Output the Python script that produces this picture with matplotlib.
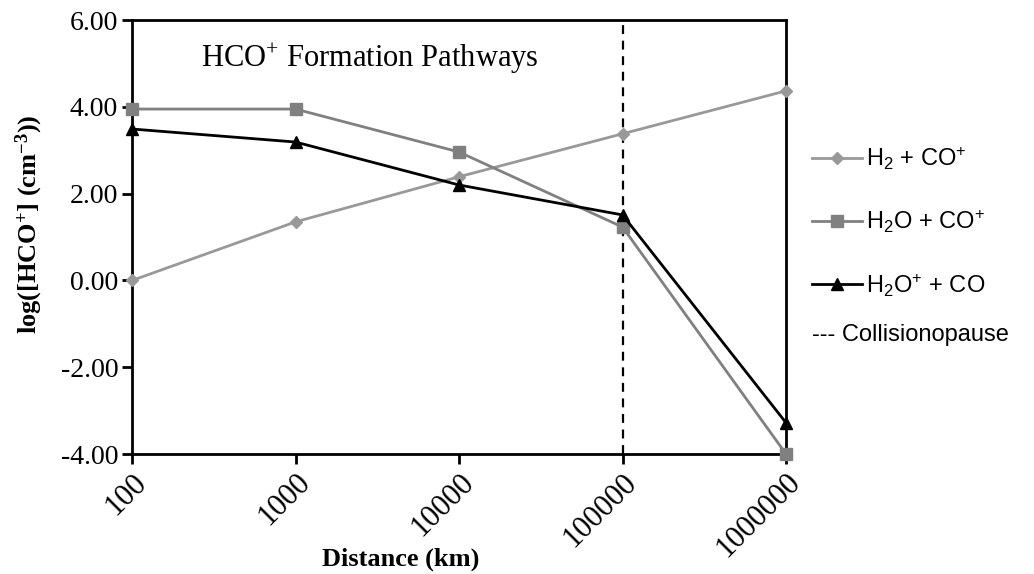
import numpy as np
import matplotlib
matplotlib.use('Agg')
import matplotlib.pyplot as plt
from matplotlib.lines import Line2D

# data
distance = [100, 1000, 10000, 100000, 1000000]
h2_co = [0.00, 1.35, 2.39, 3.38, 4.37]
h2o_co = [3.95, 3.95, 2.96, 1.23, -4.00]
h2op_co = [3.49, 3.19, 2.20, 1.51, -3.28]
collisionopause = 100000
yticks = [-4, -2, 0, 2, 4, 6]

serif = 'Liberation Serif'
sans = 'Liberation Sans'

fig = plt.figure(figsize=(10.34, 5.74), dpi=100)
ax = fig.add_axes([0.1277, 0.209, 0.6325, 0.756])

c_light = '#999999'
c_mid = '#808080'

ax.plot(distance, h2_co, color=c_light, lw=2, marker='D', ms=6, clip_on=False, zorder=3)
ax.plot(distance, h2o_co, color=c_mid, lw=2, marker='s', ms=9, clip_on=False, zorder=3)
ax.plot(distance, h2op_co, color='black', lw=2, marker='^', ms=9, clip_on=False, zorder=4)
ax.axvline(collisionopause, color='black', lw=1.6, ls=(0, (4, 3)), zorder=2)

ax.set_xscale('log')
ax.set_xlim(100, 1000000)
ax.set_ylim(-4, 6)
ax.set_xticks(distance)
ax.set_xticklabels([str(d) for d in distance], rotation=45, ha='right',
                   rotation_mode='anchor', fontfamily=serif, fontsize=22)
ax.xaxis.set_minor_locator(matplotlib.ticker.NullLocator())
ax.set_yticks(yticks)
ax.set_yticklabels(['%.2f' % v for v in yticks], fontfamily=serif, fontsize=20)
ax.tick_params(direction='out', length=7, width=2, pad=3)

for s in ax.spines.values():
    s.set_linewidth(2)

ax.set_xlabel('Distance (km)', fontfamily=serif, fontweight='bold', fontsize=19)
ax.xaxis.set_label_coords(0.411, -0.215)
ax.set_ylabel(r'log([HCO$\mathregular{^{+}}$] (cm$\mathregular{^{-3}}$))', fontfamily=serif,
              fontweight='bold', fontsize=19)
ax.yaxis.set_label_coords(-0.133, 0.53)

ax.text(0.105, 0.91, r'HCO$\mathregular{^{+}}$ Formation Pathways', transform=ax.transAxes,
        fontfamily=serif, fontsize=22, va='center')

handles = [
    Line2D([], [], color=c_light, lw=2, marker='D', ms=6),
    Line2D([], [], color=c_mid, lw=2, marker='s', ms=9),
    Line2D([], [], color='black', lw=2, marker='^', ms=9),
]
labels = [r'H$\mathregular{_2}$ + CO$\mathregular{^{+}}$',
          r'H$\mathregular{_2}$O + CO$\mathregular{^{+}}$',
          r'H$\mathregular{_2}$O$\mathregular{^{+}}$ + CO']
fig.legend(handles, labels, loc='upper left', bbox_to_anchor=(0.774, 0.768),
           frameon=False, prop={'family': sans, 'size': 17}, labelspacing=1.55,
           handlelength=2.1, handletextpad=0.2, borderpad=0)
fig.text(0.785, 0.416, '--- Collisionopause', fontfamily=sans, fontsize=17, va='center')

fig.savefig('out.png', dpi=100)
